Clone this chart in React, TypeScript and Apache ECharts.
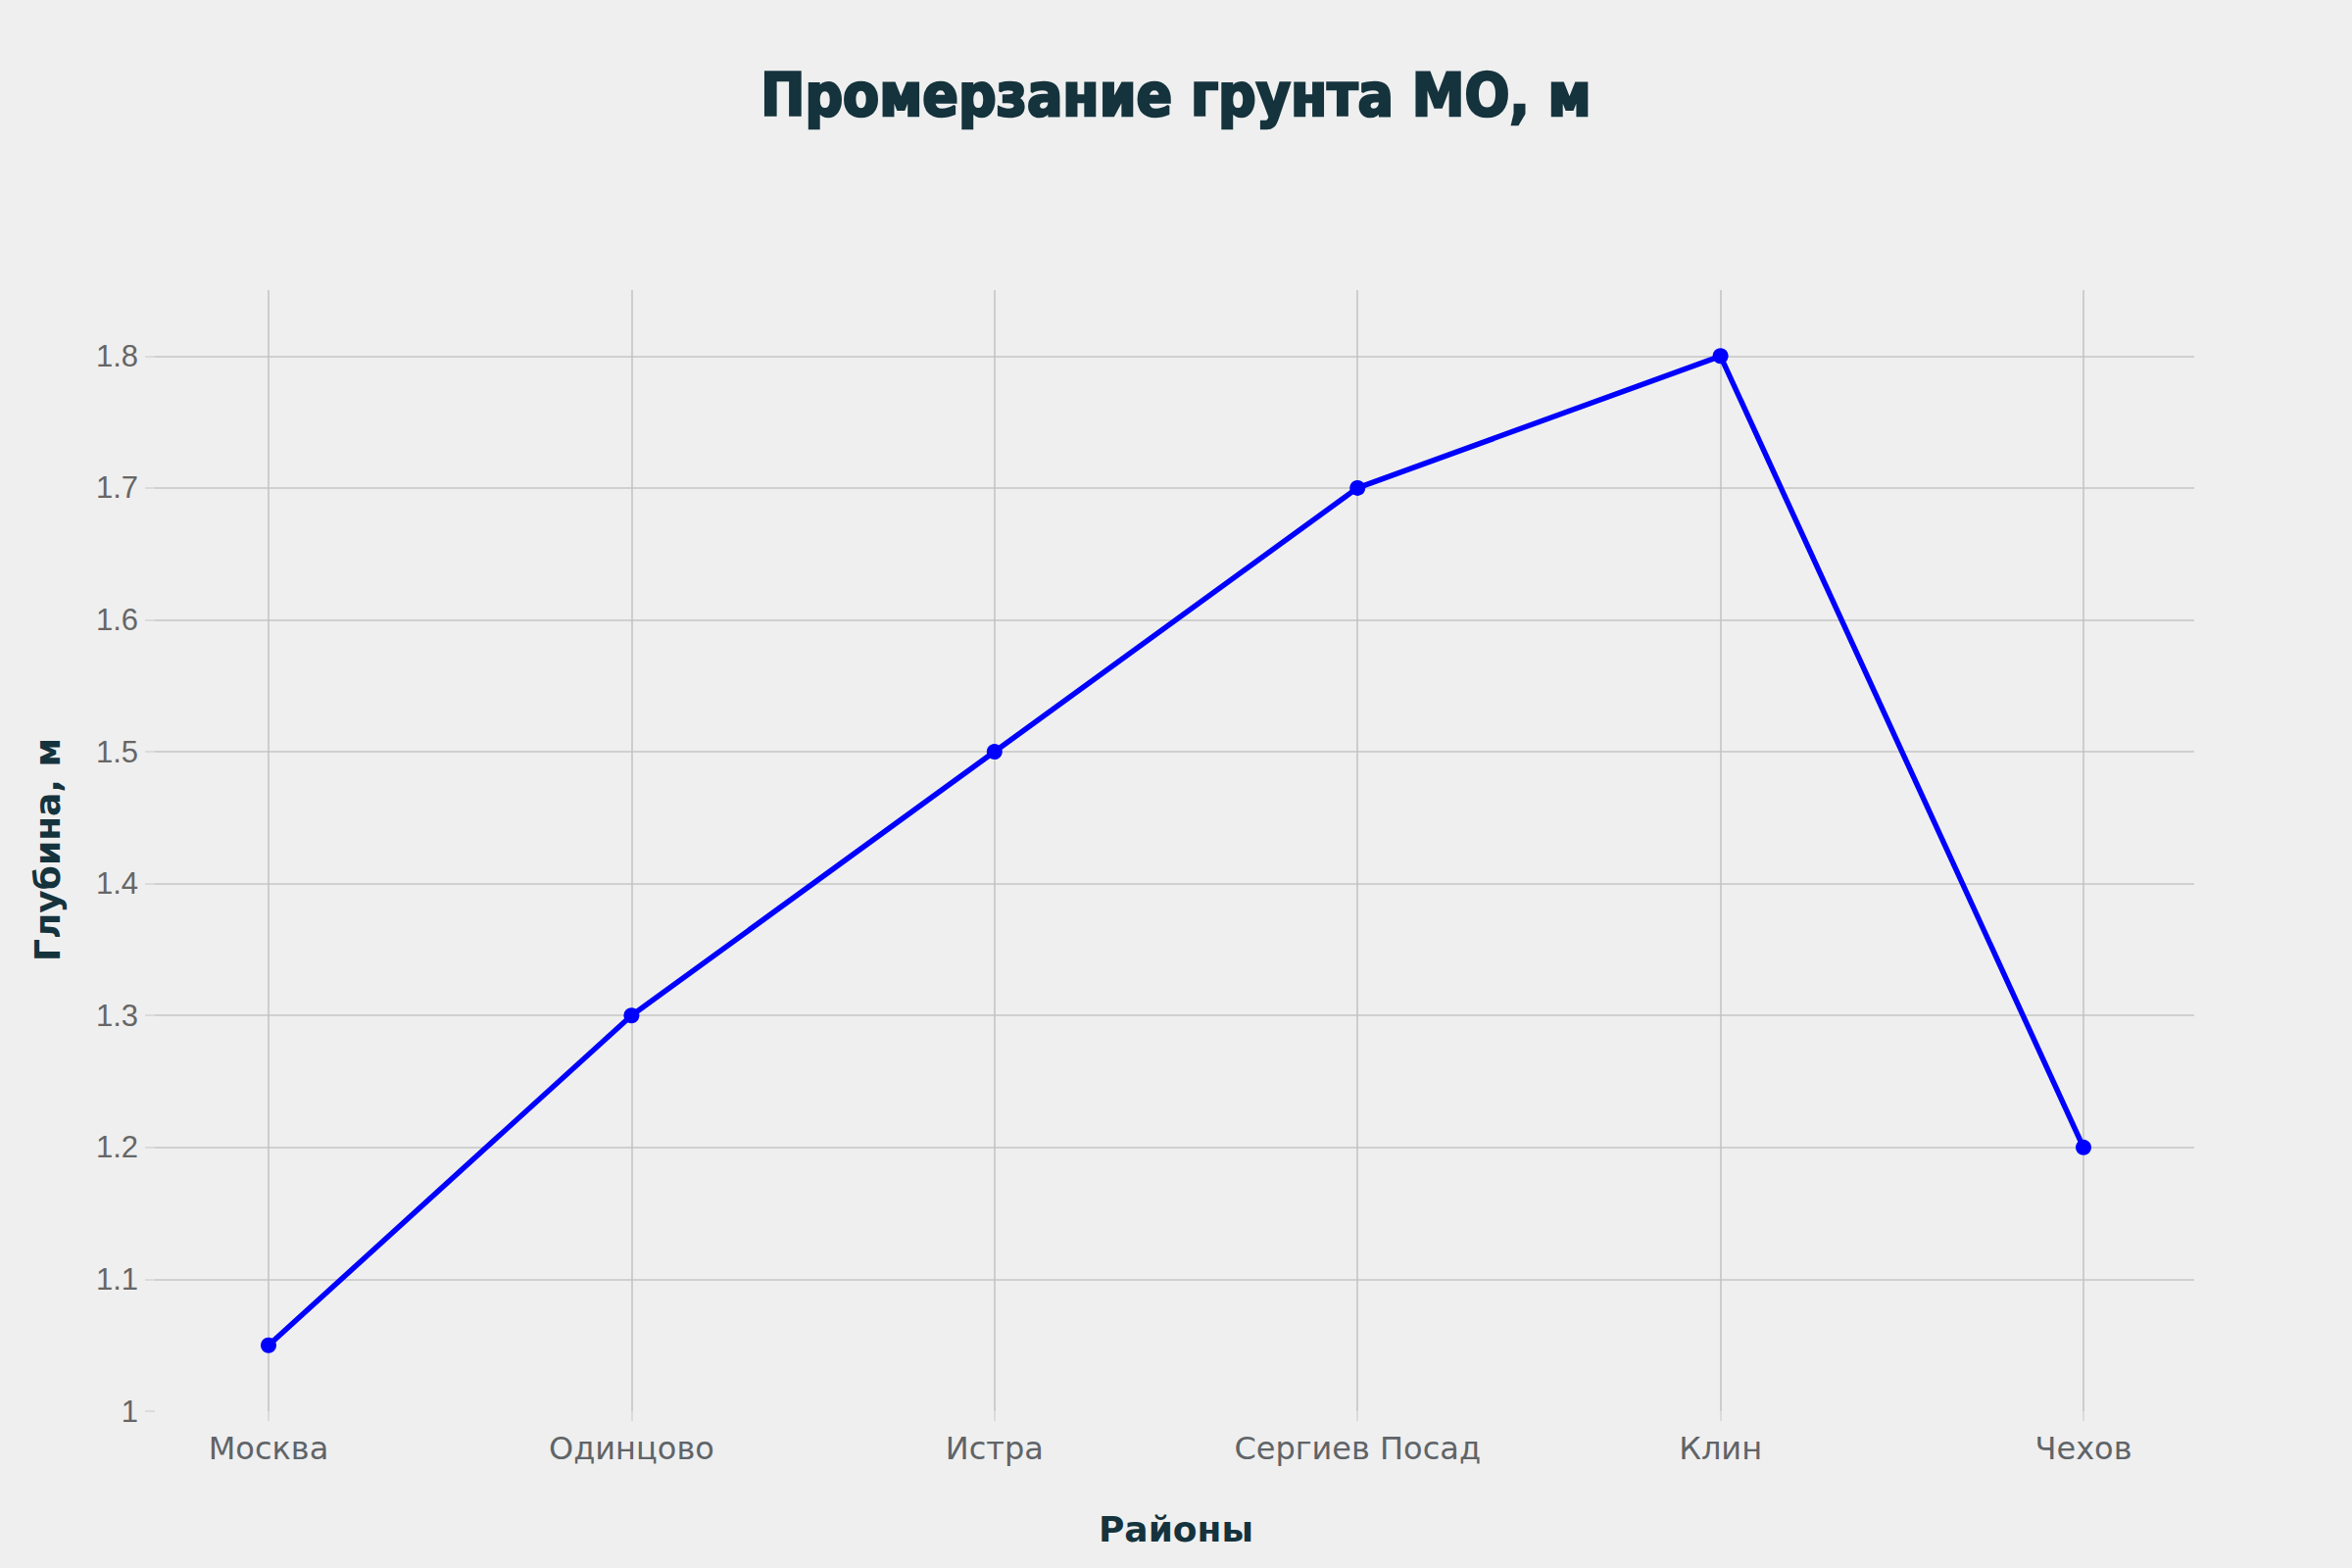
import React, { useEffect, useRef } from "react";
import * as echarts from "echarts";

const categories = ["Москва", "Одинцово", "Истра", "Сергиев Посад", "Клин", "Чехов"];
const depthValues = [1.05, 1.3, 1.5, 1.7, 1.8, 1.2];
const chartTitle = "Промерзание грунта МО, м";
const xTitle = "Районы";
const yTitle = "Глубина, м";
const yMin = 1;
const yMax = 1.85;
const yStep = 0.1;

export default function App() {
  const ref = useRef<HTMLDivElement>(null);
  useEffect(() => {
    document.body.style.margin = "0";
    const chart = echarts.init(ref.current!, undefined, { renderer: "svg" });
    const gridColor = "#c6c6c6";
    const option: any = {
      animation: false,
      backgroundColor: "#efefef",
      grid: [
        { left: 158, right: 161, top: 296, bottom: 160 },
        { left: 274, right: 274, top: 296, bottom: 160 },
      ],
      xAxis: [
        { gridIndex: 0, type: "value", min: 0, max: 1, show: false },
        {
          gridIndex: 1,
          type: "category",
          data: categories,
          boundaryGap: false,
          axisLine: { show: false },
          axisTick: { show: true, length: 10, lineStyle: { color: "#d4d4d4", width: 1.5 } },
          axisLabel: {
            margin: 22,
            fontSize: 32,
            color: "#5f6468",
            fontFamily: "DejaVu Sans",
          },
          splitLine: { show: true, lineStyle: { color: "#c2c2c2", width: 1.5 } },
        },
      ],
      yAxis: [
        {
          gridIndex: 0,
          type: "value",
          min: yMin,
          max: yMax,
          interval: yStep,
          axisLine: { show: false },
          axisTick: { show: true, length: 10, lineStyle: { color: "#d4d4d4", width: 1.5 } },
          axisLabel: {
            margin: 17,
            fontSize: 31,
            color: "#666666",
            fontFamily: "Liberation Sans",
            showMaxLabel: false,
            formatter: (v: number) => String(Number(v.toFixed(2))),
          },
          splitLine: {
            show: true,
            showMinLine: false,
            showMaxLine: false,
            lineStyle: { color: gridColor, width: 1.5 },
          },
        },
        { gridIndex: 1, type: "value", min: yMin, max: yMax, show: false },
      ],
      series: [
        {
          type: "line",
          xAxisIndex: 1,
          yAxisIndex: 1,
          data: depthValues,
          color: "#0000ff",
          lineStyle: { width: 5.5, color: "#0000ff" },
          itemStyle: { color: "#0000ff" },
          symbol: "circle",
          symbolSize: 16,
          z: 10,
        },
      ],
      graphic: [
        {
          type: "text",
          x: 1200,
          y: 97,
          style: {
            text: chartTitle,
            fontSize: 60,
            fontWeight: "bold",
            fontFamily: "DejaVu Sans Condensed, DejaVu Sans",
            fill: "#15333d",
            stroke: "#15333d",
            lineWidth: 2.5,
            align: "center",
            verticalAlign: "middle",
          },
        },
        {
          type: "text",
          x: 1200,
          y: 1560,
          style: {
            text: xTitle,
            fontSize: 36,
            fontWeight: "bold",
            fontFamily: "DejaVu Sans",
            fill: "#15333d",
            align: "center",
            verticalAlign: "middle",
          },
        },
        {
          type: "text",
          x: 48,
          y: 867,
          rotation: Math.PI / 2,
          style: {
            text: yTitle,
            fontSize: 36,
            fontWeight: "bold",
            fontFamily: "DejaVu Sans",
            fill: "#15333d",
            align: "center",
            verticalAlign: "middle",
          },
        },
      ],
    };
    chart.setOption(option);
    return () => chart.dispose();
  }, []);
  return <div ref={ref} style={{ width: 2400, height: 1600 }} />;
}
